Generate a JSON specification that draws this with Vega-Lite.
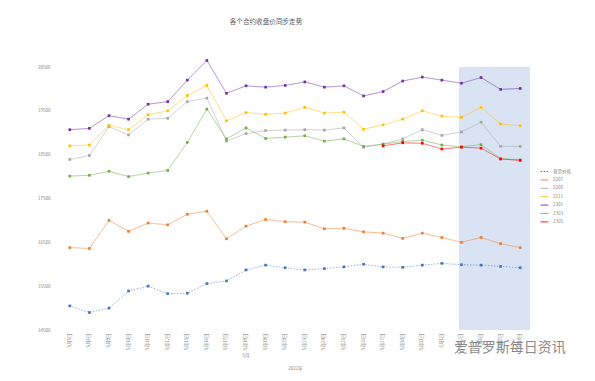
{
  "$schema": "https://vega.github.io/schema/vega-lite/v6.json",
  "autosize": {"type": "none"},
  "width": 470,
  "height": 263,
  "padding": {"left": 60, "top": 67, "right": 65, "bottom": 51},
  "background": "#ffffff",
  "config": {
    "font": "Noto Sans CJK SC",
    "view": {"stroke": null}
  },
  "title": {
    "text": "各个合约收盘价同步走势",
    "fontSize": 6.6,
    "fontWeight": "normal",
    "color": "#595959",
    "anchor": "middle",
    "dx": -29,
    "offset": 33
  },
  "datasets": {
    "prices": [
      {"d": "5月5日", "现货价格": 15050, "2207": 16380, "2208": 18390, "2211": 18700, "2301": 19070, "2303": 18010},
      {"d": "5月6日", "现货价格": 14900, "2207": 16360, "2208": 18480, "2211": 18720, "2301": 19100, "2303": 18030},
      {"d": "5月9日", "现货价格": 15000, "2207": 17000, "2208": 19140, "2211": 19170, "2301": 19390, "2303": 18120},
      {"d": "5月10日", "现货价格": 15390, "2207": 16750, "2208": 18950, "2211": 19070, "2301": 19310, "2303": 18000},
      {"d": "5月11日", "现货价格": 15500, "2207": 16940, "2208": 19310, "2211": 19410, "2301": 19650, "2303": 18080},
      {"d": "5月12日", "现货价格": 15330, "2207": 16900, "2208": 19330, "2211": 19500, "2301": 19710, "2303": 18140},
      {"d": "5月13日", "现货价格": 15340, "2207": 17140, "2208": 19710, "2211": 19850, "2301": 20200, "2303": 18780},
      {"d": "5月16日", "现货价格": 15560, "2207": 17210, "2208": 19790, "2211": 20080, "2301": 20650, "2303": 19540},
      {"d": "5月17日", "现货价格": 15620, "2207": 16580, "2208": 18810, "2211": 19270, "2301": 19900, "2303": 18860},
      {"d": "5月18日", "现货价格": 15870, "2207": 16870, "2208": 18980, "2211": 19460, "2301": 20070, "2303": 19110},
      {"d": "5月19日", "现货价格": 15980, "2207": 17020, "2208": 19050, "2211": 19420, "2301": 20040, "2303": 18870},
      {"d": "5月20日", "现货价格": 15920, "2207": 16970, "2208": 19060, "2211": 19450, "2301": 20080, "2303": 18900},
      {"d": "5月23日", "现货价格": 15870, "2207": 16960, "2208": 19070, "2211": 19580, "2301": 20160, "2303": 18930},
      {"d": "5月24日", "现货价格": 15900, "2207": 16810, "2208": 19060, "2211": 19450, "2301": 20040, "2303": 18810},
      {"d": "5月25日", "现货价格": 15940, "2207": 16820, "2208": 19110, "2211": 19470, "2301": 20070, "2303": 18860},
      {"d": "5月26日", "现货价格": 16000, "2207": 16740, "2208": 18670, "2211": 19080, "2301": 19840, "2303": 18690},
      {"d": "5月27日", "现货价格": 15940, "2207": 16710, "2208": 18740, "2211": 19180, "2301": 19940, "2303": 18740, "2305": 18700},
      {"d": "5月30日", "现货价格": 15930, "2207": 16590, "2208": 18860, "2211": 19310, "2301": 20180, "2303": 18800, "2305": 18770},
      {"d": "5月31日", "现货价格": 15980, "2207": 16710, "2208": 19070, "2211": 19500, "2301": 20270, "2303": 18830, "2305": 18760},
      {"d": "6月1日", "现货价格": 16020, "2207": 16610, "2208": 18940, "2211": 19380, "2301": 20200, "2303": 18720, "2305": 18630},
      {"d": "6月2日", "现货价格": 15990, "2207": 16500, "2208": 19020, "2211": 19350, "2301": 20130, "2303": 18680, "2305": 18670},
      {"d": "6月6日", "现货价格": 15980, "2207": 16610, "2208": 19240, "2211": 19580, "2301": 20260, "2303": 18730, "2305": 18650},
      {"d": "6月7日", "现货价格": 15950, "2207": 16470, "2208": 18690, "2211": 19200, "2301": 19990, "2303": 18410, "2305": 18400},
      {"d": "6月8日", "现货价格": 15920, "2207": 16380, "2208": 18690, "2211": 19160, "2301": 20010, "2303": 18380, "2305": 18370}
    ]
  },
  "encoding": {
    "x": {
      "field": "d",
      "type": "ordinal",
      "scale": {
        "type": "band",
        "paddingInner": 0,
        "paddingOuter": 0,
        "domain": ["5月5日", "5月6日", "5月9日", "5月10日", "5月11日", "5月12日", "5月13日", "5月16日", "5月17日", "5月18日", "5月19日", "5月20日", "5月23日", "5月24日", "5月25日", "5月26日", "5月27日", "5月30日", "5月31日", "6月1日", "6月2日", "6月6日", "6月7日", "6月8日"]
      },
      "axis": {
        "title": "2022年",
        "titleFontSize": 4.5,
        "titleFontWeight": "normal",
        "titleColor": "#7f7f7f",
        "titlePadding": 16,
        "labelAngle": -90,
        "labelFontSize": 4.5,
        "labelColor": "#7f7f7f",
        "labelPadding": 3,
        "ticks": false,
        "domain": false,
        "grid": false
      }
    }
  },
  "layer": [
    {
      "data": {"values": [{"d": "6月2日", "b": "6月8日"}]},
      "mark": {"type": "rect", "color": "#dae3f3"},
      "encoding": {
        "x": {"field": "d", "type": "ordinal", "bandPosition": 0.37},
        "x2": {"field": "b", "bandPosition": 1},
        "y": {"datum": 14500, "type": "quantitative"},
        "y2": {"datum": 20500}
      }
    },
    {
      "data": {"name": "prices"},
      "transform": [
        {"fold": ["现货价格", "2207", "2208", "2211", "2301", "2303", "2305"], "as": ["s", "v"]},
        {"filter": "isValid(datum.v)"}
      ],
      "mark": {
        "type": "line",
        "strokeWidth": 1,
        "strokeOpacity": 0.55,
        "point": {"shape": "square", "size": 7, "filled": true, "opacity": 1}
      },
      "encoding": {
        "y": {
          "field": "v",
          "type": "quantitative",
          "scale": {"domain": [14500, 20500], "zero": false},
          "axis": {
            "title": null,
            "values": [14500, 15500, 16500, 17500, 18500, 19500, 20500],
            "format": "d",
            "labelFontSize": 4.5,
            "labelColor": "#7f7f7f",
            "labelPadding": 10,
            "ticks": false,
            "domain": false,
            "gridColor": "#e3e3e3",
            "gridWidth": 0.8
          }
        },
        "color": {
          "field": "s",
          "type": "nominal",
          "scale": {
            "domain": ["现货价格", "2207", "2208", "2211", "2301", "2303", "2305"],
            "range": ["#4472c4", "#ed7d31", "#a5a5a5", "#ffc000", "#7030a0", "#70ad47", "#ff0000"]
          },
          "legend": {
            "title": null,
            "orient": "none",
            "legendX": 480,
            "legendY": 100,
            "labelFontSize": 4.5,
            "labelColor": "#7f7f7f",
            "symbolType": "stroke",
            "symbolSize": 60,
            "symbolStrokeWidth": 1,
            "rowPadding": 1.4
          }
        },
        "strokeDash": {
          "field": "s",
          "type": "nominal",
          "scale": {
            "domain": ["现货价格", "2207", "2208", "2211", "2301", "2303", "2305"],
            "range": [[1.5, 1.5], [1, 0], [1, 0], [1, 0], [1, 0], [1, 0], [1, 0]]
          },
          "legend": null
        }
      }
    },
    {
      "data": {"values": [{"d": "5月18日", "t": "5月"}]},
      "mark": {"type": "text", "fontSize": 4.5, "color": "#7f7f7f", "dy": 26, "baseline": "middle"},
      "encoding": {
        "y": {"datum": 14500, "type": "quantitative"},
        "text": {"field": "t"}
      }
    },
    {
      "data": {"values": [{"d": "6月1日", "t": "爱普罗斯每日资讯"}]},
      "mark": {"type": "text", "fontSize": 14, "color": "#8a8a8a", "align": "left", "dx": 12, "dy": 18, "baseline": "middle"},
      "encoding": {
        "y": {"datum": 14500, "type": "quantitative"},
        "text": {"field": "t"}
      }
    }
  ]
}
